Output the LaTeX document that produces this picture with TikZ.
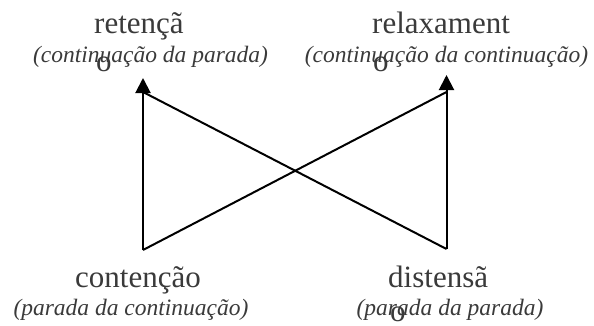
\documentclass[tikz,border=0pt]{standalone}
\usepackage{fontspec}
\setmainfont{Liberation Serif}
\usetikzlibrary{arrows.meta}
\definecolor{inkgray}{HTML}{3A3A3A}

\begin{document}
\begin{tikzpicture}[
  x=1pt, y=-1pt,
  word/.style={inner sep=0pt,anchor=base west,text=inkgray,font=\fontsize{31}{36}\selectfont},
  gloss/.style={inner sep=0pt,anchor=base,text=inkgray,font=\fontsize{23.5}{28}\selectfont\itshape},
  link/.style={draw,line width=2pt},
  arrowlink/.style={link,-{Triangle[length=15pt,width=15pt]}}
]
  \useasboundingbox (0,0) rectangle (594,325);

  % the four words
  \node[word] (ret)  at (94,33)  {retençã};
  \node[word] (retO) at (96,71)  {o};
  \node[gloss] (retG) at (150.5,62) {(continuação da parada)};

  \node[word] (rel)  at (372,33) {relaxament};
  \node[word] (relO) at (373,71) {o};
  \node[gloss] (relG) at (446.5,62) {(continuação da continuação)};

  \node[word] (con)  at (75,287) {contenção};
  \node[gloss] (conG) at (131,315) {(parada da continuação)};

  \node[word] (dis)  at (388,287) {distensã};
  \node[word] (disO) at (390,321) {o};
  \node[gloss] (disG) at (450,315) {(parada da parada)};

  % end points of the connectors
  \coordinate (conP) at (143,250);
  \coordinate (disP) at (446.5,249);
  \coordinate (retP) at (143,78);
  \coordinate (relP) at (446.5,75);
  \coordinate (retB) at (143,92);
  \coordinate (relB) at (446.5,92);

  \draw[arrowlink] (conP) -- (retP);
  \draw[arrowlink] (disP) -- (relP);
  \draw[link] (conP) -- (relB);
  \draw[link] (disP) -- (retB);
\end{tikzpicture}
\end{document}
